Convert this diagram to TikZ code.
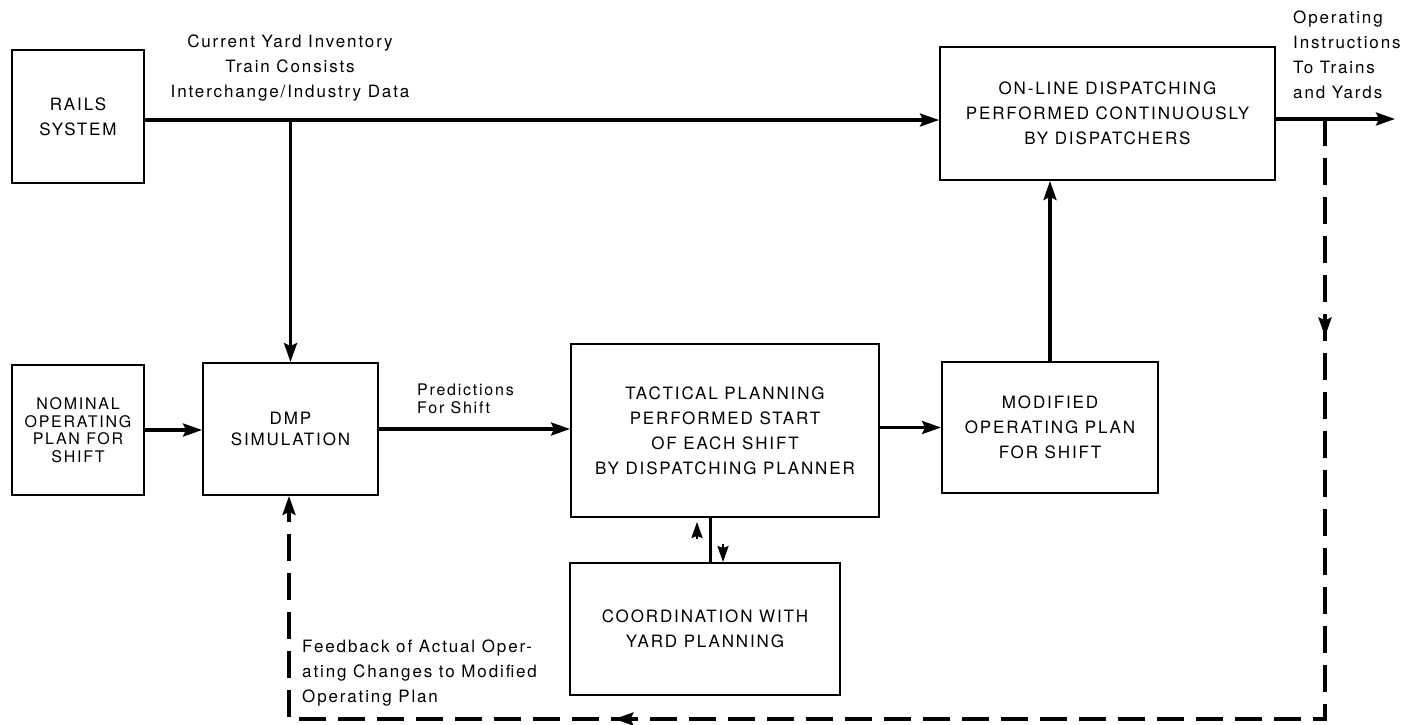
\documentclass[tikz,border=0pt]{standalone}
\usepackage{fontspec}
\setmainfont{TeX Gyre Heros}[LetterSpace=11]
\usetikzlibrary{arrows.meta,decorations.markings}

\begin{document}
\begin{tikzpicture}[x=1pt,y=-1pt,
  font=\fontsize{17}{25}\selectfont,
  blk/.style={draw, line width=1.9pt, inner sep=0pt, align=center, anchor=center},
  link/.style={line width=3.2pt, -{Stealth[length=19pt,width=13pt,inset=3pt]}},
  headonly/.style={line width=2.4pt, -{Stealth[length=16pt,width=11pt,inset=2pt]}},
  fb/.style={line width=3.4pt, dash pattern=on 27pt off 12pt},
  lbl/.style={inner sep=0pt}
]
\useasboundingbox (0,0) rectangle (1405,725);

% blocks
\node[blk, minimum width=132pt, minimum height=133pt] (rails) at (78,116.5) {RAILS\\SYSTEM};
\node[blk, minimum width=132pt, minimum height=130pt,
      font=\fontsize{16}{17.5}\selectfont] (nominal) at (78,430) {NOMINAL\\OPERATING\\PLAN FOR\\SHIFT};
\node[blk, minimum width=175pt, minimum height=132pt,
      font=\fontsize{17}{21}\selectfont] (dmp) at (290.5,429) {DMP\\SIMULATION};
\node[blk, minimum width=308pt, minimum height=173pt] (tac) at (725,430.5)
  {TACTICAL PLANNING\\PERFORMED START\\OF EACH SHIFT\\BY DISPATCHING PLANNER};
\node[blk, minimum width=270pt, minimum height=132pt] (coord) at (705,629)
  {COORDINATION WITH\\YARD PLANNING};
\node[blk, minimum width=216pt, minimum height=131pt] (mod) at (1050,427.5)
  {MODIFIED\\OPERATING PLAN\\FOR SHIFT};
\node[blk, minimum width=335pt, minimum height=133pt] (online) at (1107.5,113.5)
  {ON-LINE DISPATCHING\\PERFORMED CONTINUOUSLY\\BY DISPATCHERS};

% labels
\node[lbl, align=center] (inv) at (290,68)
  {Current Yard Inventory\\Train Consists\\Interchange/Industry Data};
\node[lbl, align=left, anchor=west] (instr) at (1293,54.5)
  {Operating\\Instructions\\To Trains\\and Yards};
\node[lbl, align=left, anchor=west, font=\fontsize{16}{18}\selectfont] (pred) at (417,399)
  {Predictions\\For Shift};
\node[lbl, align=left, anchor=west] (fbtext) at (302,673)
  {Feedback of Actual Oper-\\ating Changes to Modified\\Operating Plan};

% helper coordinates
\coordinate (tl) at (0,120);
\coordinate (out) at (1395,119);
\coordinate (fbr) at (1325,119);
\coordinate (fbc) at (1325,719);
\coordinate (fbl) at (289,719);
\coordinate (cx) at (710,0);
\coordinate (upx) at (697,0);
\coordinate (dnx) at (723,0);

% solid connectors
\draw[link] (rails.east |- tl) -- (online.west |- tl);
\draw[link] (dmp.north |- tl) -- (dmp.north);
\draw[link] (online.east |- out) -- (out);
\draw[link] (nominal.east) -- (dmp.west |- nominal.east);
\draw[link] (dmp.east) -- (tac.west |- dmp.east);
\draw[link] (tac.east |- mod.west) -- (mod.west);
\draw[link] (mod.north) -- (mod.north |- online.south);

% two-way exchange with yard planning
\draw[line width=3pt] (tac.south -| cx) -- (coord.north -| cx);
\draw[headonly] ([yshift=-21pt]tac.south -| upx) -- ([yshift=-4pt]tac.south -| upx);
\draw[headonly] ([yshift=18pt]coord.north -| dnx) -- (coord.north -| dnx);

% feedback loop
\draw[fb, -{Stealth[length=19pt,width=13pt,inset=3pt]},
  postaction={decorate},
  decoration={markings,
    mark=at position 0.117 with {\arrow{Stealth[length=19pt,width=13pt,inset=3pt]}},
    mark=at position 0.705 with {\arrow{Stealth[length=19pt,width=13pt,inset=3pt]}}}]
  (fbr) -- (fbc) -- (fbl) -- (dmp.south -| fbl);
\end{tikzpicture}
\end{document}
